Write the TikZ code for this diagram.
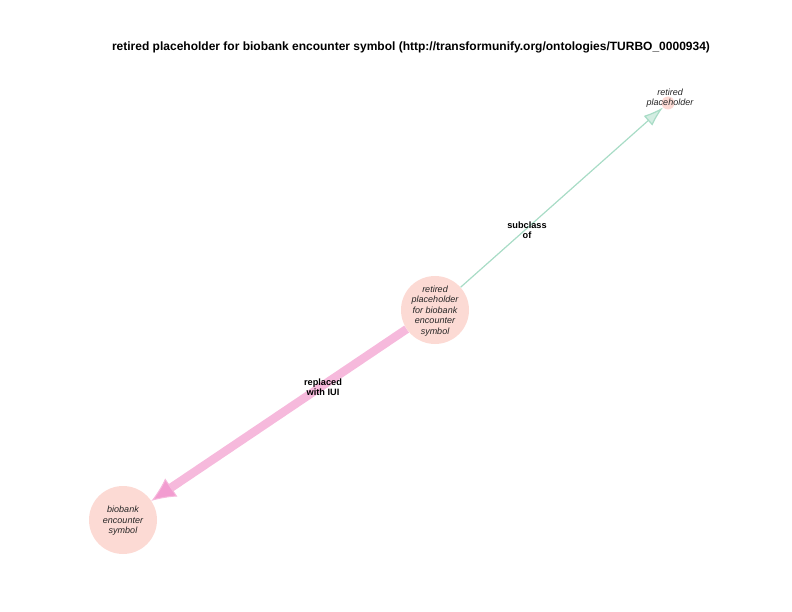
\documentclass[tikz,border=0pt]{standalone}
\usepackage{fontspec}
\setmainfont{Liberation Sans}
\usetikzlibrary{arrows.meta}
\definecolor{nodepink}{HTML}{FCDAD4}
\definecolor{mint}{HTML}{A8DCC6}
\definecolor{rosepink}{HTML}{F6B9DC}
\definecolor{tippink}{HTML}{F29CD0}
\begin{document}
\begin{tikzpicture}[x=1pt, y=-1pt,
  cls/.style={circle, fill=nodepink, inner sep=0pt},
  lbl/.style={font=\fontsize{9}{10.5}\selectfont\itshape, align=center, text=black!85},
  elbl/.style={font=\fontsize{9.2}{10.5}\selectfont\bfseries, align=center},
  sub/.style={draw=mint, line width=1.2pt, -{Latex[open, length=20pt, width=13pt, color=mint, fill=mint!50]}},
  repl/.style={draw=rosepink, line width=8.5pt, -{Latex[length=24pt, width=22pt, line width=1pt, color=rosepink, fill=tippink]}}]
\useasboundingbox (0, 0) rectangle (792, 612);
\node[font=\fontsize{12}{14}\selectfont\bfseries] (title) at (411, 47) {retired placeholder for biobank encounter symbol (http://transformunify.org/ontologies/TURBO\_0000934)};
\node[cls, minimum size=13pt] (R) at (668, 103) {};
\node[cls, minimum size=68pt] (M) at (435, 310) {};
\node[cls, minimum size=68pt] (B) at (123, 520) {};
\node[lbl] (Rl) at (670, 98) {retired\\placeholder};
\node[lbl] (Ml) at (435, 311) {retired\\placeholder\\for biobank\\encounter\\symbol};
\node[lbl] (Bl) at (123, 521) {biobank\\encounter\\symbol};
\draw [sub] (M) to (R);
\draw [repl] (M) to (B);
\node[elbl] (subl) at (527, 230) {subclass\\of};
\node[elbl] (repll) at (323, 387) {replaced\\with IUI};
\end{tikzpicture}
\end{document}
